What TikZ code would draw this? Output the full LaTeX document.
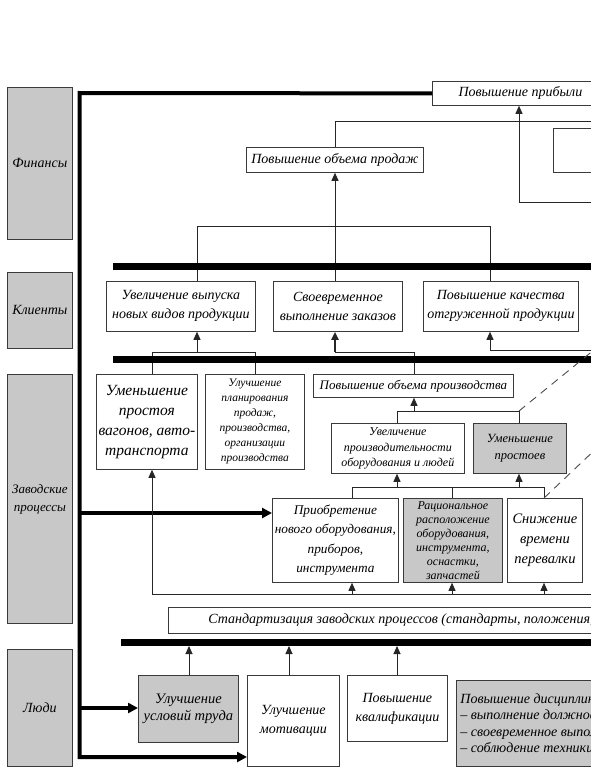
\documentclass[tikz,border=0pt]{standalone}
\usepackage{fontspec}
\setmainfont{Liberation Serif}
\usetikzlibrary{arrows.meta}
\definecolor{boxgray}{HTML}{C8C8C8}
\definecolor{edge}{HTML}{3A3A3A}
\begin{document}
\begin{tikzpicture}[x=1pt,y=-1pt,
  font=\itshape\fontsize{14}{19}\selectfont,
  box/.style={draw=edge, line width=0.8pt, anchor=north west, inner sep=1pt, align=center, fill=white},
  gbox/.style={box, fill=boxgray},
  small/.style={font=\itshape\fontsize{12}{15.5}\selectfont},
  conn/.style={draw=black!85, line width=0.9pt},
  arr/.style={conn, -{Triangle[length=8pt,width=7pt]}},
  bar/.style={line width=7pt},
  spine/.style={line width=4pt, line join=miter},
  spinearr/.style={spine, -{Triangle[length=10pt,width=10pt]}},
  dashedl/.style={draw=black!70, line width=0.9pt, dash pattern=on 8pt off 6pt},
]
\useasboundingbox (0,0) rectangle (591,768);
\fill[white] (0,0) rectangle (591,768);
\clip (0,0) rectangle (591,768);

% left category column
\node[gbox, minimum width=65pt, minimum height=152pt] (fin) at (7,87) {Финансы};
\node[gbox, minimum width=65pt, minimum height=76pt] (kli) at (7,272) {Клиенты};
\node[gbox, minimum width=65pt, minimum height=249pt, font=\itshape\fontsize{13}{18}\selectfont] (zav) at (7,374) {Заводские\\процессы};
\node[gbox, minimum width=65pt, minimum height=117pt] (lyu) at (7,649) {Люди};

% finance level
\node[box, minimum width=176pt, minimum height=24pt] (pribyl) at (432,81) {Повышение прибыли};
\node[box, minimum width=80pt, minimum height=44pt] (inner) at (553,128) {};
\node[box, minimum width=177pt, minimum height=25pt] (prodazh) at (246,147) {Повышение объема продаж};

% clients level
\node[box, minimum width=149pt, minimum height=50pt] (vyp) at (106,281) {Увеличение выпуска\\новых видов продукции};
\node[box, minimum width=129pt, minimum height=50pt] (svo) at (273,281) {Своевременное\\выполнение заказов};
\node[box, minimum width=155pt, minimum height=50pt] (kach) at (423,281) {Повышение качества\\отгруженной продукции};

% processes level
\node[box, minimum width=101pt, minimum height=95pt, font=\itshape\fontsize{15.5}{20}\selectfont] (vag) at (96,374) {Уменьшение\\простоя\\вагонов, авто-\\транспорта};
\node[box, minimum width=99pt, minimum height=95pt, font=\itshape\fontsize{11.5}{15}\selectfont] (plan) at (205,374) {Улучшение\\планирования\\продаж,\\производства,\\организации\\производства};
\node[box, minimum width=200pt, minimum height=23pt, font=\itshape\fontsize{13}{18}\selectfont] (proizv) at (313,374) {Повышение объема производства};
\node[box, small, minimum width=133pt, minimum height=50pt] (prz) at (331,423) {Увеличение\\производительности\\оборудования и людей};
\node[gbox, minimum width=93pt, minimum height=50pt, font=\itshape\fontsize{12.5}{17}\selectfont] (pros) at (473,423) {Уменьшение\\простоев};
\node[box, minimum width=126pt, minimum height=84pt, font=\itshape\fontsize{13.3}{19.5}\selectfont] (priobr) at (272,498) {Приобретение\\нового оборудования,\\приборов,\\инструмента};
\node[gbox, minimum width=99pt, minimum height=84pt, font=\itshape\fontsize{12}{14}\selectfont] (rac) at (403,498) {Рациональное\\расположение\\оборудования,\\инструмента,\\оснастки,\\запчастей};
\node[box, minimum width=75pt, minimum height=84pt, font=\itshape\fontsize{14.5}{20}\selectfont] (snizh) at (507,498) {Снижение\\времени\\перевалки};
\node[box, minimum height=26pt, inner xsep=40pt] (std) at (168,607) {Стандартизация заводских процессов (стандарты, положения, инструкции)};

% people level
\node[gbox, minimum width=100pt, minimum height=67pt, font=\itshape\fontsize{14.5}{17.5}\selectfont] (usl) at (138,675) {Улучшение\\условий труда};
\node[box, minimum width=92pt, minimum height=91pt] (motiv) at (247,675) {Улучшение\\мотивации};
\node[box, minimum width=100pt, minimum height=66pt] (kval) at (347,675) {Повышение\\квалификации};
\node[gbox, minimum width=250pt, minimum height=86pt, align=left, inner xsep=4pt, font=\itshape\fontsize{14}{16.5}\selectfont] (disc) at (456,680) {Повышение дисциплины:\\– выполнение должностных обязанностей\\– своевременное выполнение заданий\\– соблюдение техники безопасности};

% spine
\coordinate (sTop) at (79.5,93);
\coordinate (sBot) at (79.5,757);
\coordinate (sZ) at (79.5,513);
\coordinate (sL) at (79.5,708);
\draw[spinearr] (pribyl.west) -- (sTop) -- (sBot) -- (sBot -| motiv.west);
\draw[spinearr] (sZ) -- (sZ -| priobr.west);
\draw[spinearr] (sL) -- (sL -| usl.west);

% finance connectors
\coordinate (pR) at (600,202);
\coordinate (p1) at (519,202);
\draw[arr] (pR) -- (p1) -- (pribyl.south -| p1);
\coordinate (qR) at (600,121);
\coordinate (q1) at (335,121);
\draw[conn] (qR) -- (q1) -- (prodazh.north -| q1);
\coordinate (r0) at (197,226);
\coordinate (r1) at (335,226);
\coordinate (r2) at (490,226);
\draw[arr] (r1) -- (prodazh.south -| r1);
\draw[conn] (vyp.north -| r0) -- (r0) -- (r2) -- (kach.north -| r2);
\draw[conn] (r1) -- (svo.north -| r1);
\coordinate (b1L) at (113,266);
\coordinate (b1R) at (600,266);
\draw[bar] (b1L) -- (b1R);

% clients connectors
\coordinate (a0) at (152,352);
\coordinate (a1) at (197,352);
\coordinate (a2) at (255,352);
\draw[conn] (vag.north -| a0) -- (a0) -- (a2) -- (plan.north -| a2);
\draw[arr] (a1) -- (vyp.south -| a1);
\coordinate (c1) at (335,352);
\coordinate (c2) at (414,352);
\draw[conn] (c1) -- (c2) -- (proizv.north -| c2);
\draw[arr, line width=1.8pt] (c1) -- (svo.south -| c1);
\coordinate (k1) at (490,350);
\coordinate (kR) at (600,350);
\draw[arr] (kR) -- (k1) -- (kach.south -| k1);
\coordinate (b2L) at (113,359.5);
\coordinate (b2R) at (600,359.5);
\draw[bar] (b2L) -- (b2R);

% processes connectors
\coordinate (d0) at (397,411);
\coordinate (d1) at (414,411);
\coordinate (d2) at (519,411);
\coordinate (dD) at (600,345);
\draw[arr] (d1) -- (proizv.south -| d1);
\draw[conn] (prz.north -| d0) -- (d0) -- (d2) -- (pros.north -| d2);
\draw[dashedl] (d2) -- (dD);

\coordinate (e0) at (352,487);
\coordinate (e1) at (397,487);
\coordinate (e2) at (519,487);
\coordinate (e4) at (452,487);
\coordinate (e3) at (544,487);
\coordinate (eD) at (600,445);
\draw[conn] (priobr.north -| e0) -- (e0) -- (e3) -- (snizh.north -| e3);
\draw[conn] (e4) -- (rac.north -| e4);
\draw[arr] (e1) -- (prz.south -| e1);
\draw[arr] (e2) -- (pros.south -| e2);
\draw[dashedl] (snizh.north -| e3) -- (eD);

\coordinate (f0) at (152,594);
\coordinate (f1) at (352,594);
\coordinate (f2) at (452,594);
\coordinate (f3) at (544,594);
\coordinate (fR) at (600,594);
\draw[arr] (fR) -- (f0) -- (vag.south -| f0);
\draw[arr] (f1) -- (priobr.south -| f1);
\draw[arr] (f2) -- (rac.south -| f2);
\draw[arr] (f3) -- (snizh.south -| f3);

% people connectors
\coordinate (b3L) at (121,642);
\coordinate (b3R) at (600,642);
\draw[bar] (b3L) -- (b3R);
\coordinate (g1) at (189,646);
\coordinate (g2) at (289,646);
\coordinate (g3) at (397,646);
\draw[arr] (usl.north -| g1) -- (g1);
\draw[arr] (motiv.north -| g2) -- (g2);
\draw[arr] (kval.north -| g3) -- (g3);
\end{tikzpicture}
\end{document}
